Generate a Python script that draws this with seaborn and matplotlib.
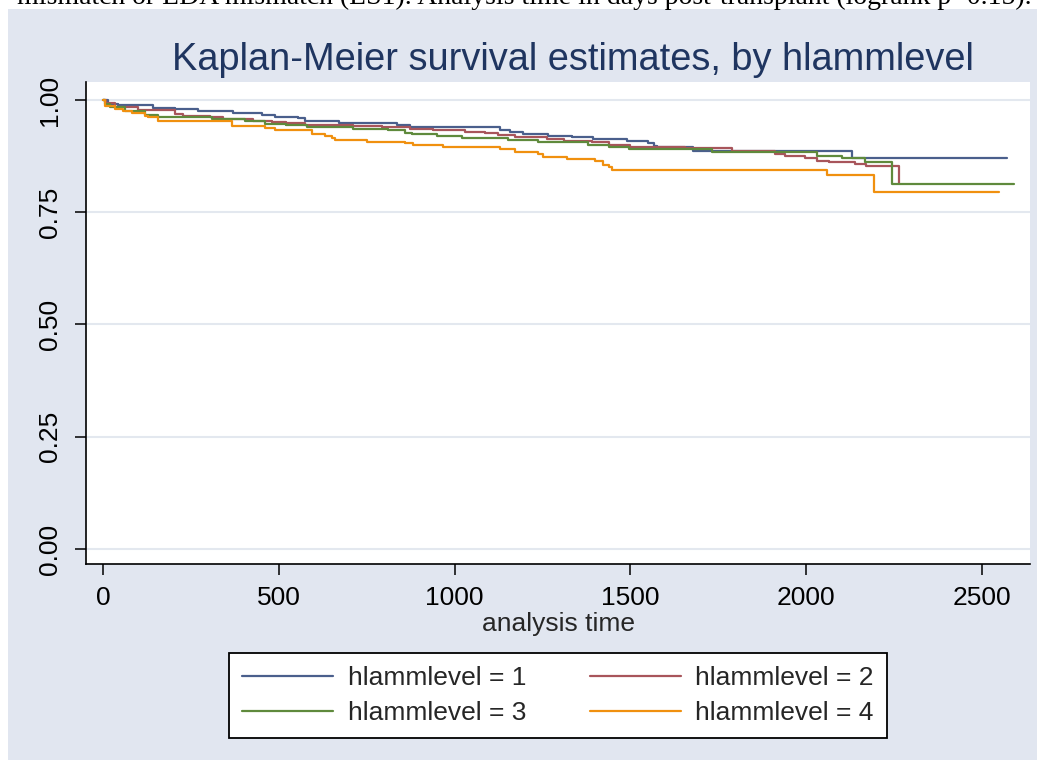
import numpy as np
import pandas as pd
import matplotlib
matplotlib.use('Agg')
import matplotlib.pyplot as plt
import seaborn as sns
from matplotlib.patches import Rectangle

sns.set_style('white')
plt.rcParams['font.family'] = ['Liberation Sans', 'DejaVu Sans']

# ---- data ----
t1 = [0, 15, 44, 143, 205, 271, 371, 451, 489, 556, 575, 670, 836, 873, 1129, 1158, 1196,
      1267, 1333, 1395, 1490, 1551, 1566, 1575, 1679, 2130, 2571]
s1 = [1.0, 0.991, 0.989, 0.983, 0.979, 0.9755, 0.971, 0.9666, 0.962, 0.959, 0.954, 0.9495,
      0.944, 0.939, 0.933, 0.928, 0.924, 0.9205, 0.917, 0.9125, 0.909, 0.9035, 0.898, 0.895,
      0.887, 0.870, 0.870]

t2 = [0, 8, 34, 100, 205, 228, 304, 342, 428, 480, 520, 575, 712, 793, 873, 940, 1030, 1087,
      1125, 1172, 1262, 1310, 1390, 1438, 1499, 1656, 1789, 1912, 1940, 1997, 2030, 2064,
      2140, 2170, 2263]
s2 = [1.0, 0.994, 0.984, 0.978, 0.969, 0.965, 0.961, 0.957, 0.953, 0.950, 0.948, 0.944,
      0.942, 0.939, 0.935, 0.932, 0.928, 0.926, 0.922, 0.918, 0.9125, 0.909, 0.906, 0.9005,
      0.8946, 0.892, 0.887, 0.879, 0.875, 0.870, 0.865, 0.861, 0.858, 0.854, 0.8145]

t3 = [0, 5, 20, 63, 119, 157, 309, 404, 461, 520, 579, 712, 812, 859, 878, 949, 1020, 1153,
      1238, 1381, 1438, 1495, 1732, 2030, 2101, 2168, 2244, 2592]
s3 = [1.0, 0.990, 0.984, 0.976, 0.9666, 0.961, 0.958, 0.953, 0.946, 0.944, 0.939, 0.935,
      0.932, 0.927, 0.9235, 0.920, 0.9146, 0.911, 0.906, 0.900, 0.8946, 0.891, 0.883, 0.876,
      0.870, 0.861, 0.812, 0.812]

t4 = [0, 6, 34, 58, 82, 119, 129, 157, 366, 461, 489, 594, 632, 651, 660, 750, 859, 883, 968,
      1129, 1172, 1238, 1253, 1319, 1400, 1423, 1438, 1447, 2059, 2193, 2550]
s4 = [1.0, 0.9866, 0.980, 0.976, 0.972, 0.965, 0.961, 0.954, 0.943, 0.937, 0.9325, 0.924,
      0.920, 0.9146, 0.911, 0.907, 0.9035, 0.900, 0.8946, 0.890, 0.8846, 0.879, 0.874, 0.8686,
      0.864, 0.855, 0.850, 0.844, 0.833, 0.794, 0.794]

groups = ['hlammlevel = 1', 'hlammlevel = 2', 'hlammlevel = 3', 'hlammlevel = 4']
colors = ['#4A5F8C', '#A8555B', '#5F8A3C', '#F0900F']
xticks = [0, 500, 1000, 1500, 2000, 2500]
yticks = [0.0, 0.25, 0.50, 0.75, 1.00]
ytick_labels = ['0.00', '0.25', '0.50', '0.75', '1.00']

df = pd.concat([
    pd.DataFrame({'time': t, 'surv': s, 'group': g})
    for t, s, g in zip([t1, t2, t3, t4], [s1, s2, s3, s4], groups)
], ignore_index=True)

W, H = 1044, 766
fig = plt.figure(figsize=(W / 100, H / 100), dpi=100)
fig.patch.set_facecolor('white')
bg = Rectangle((8 / W, 1 - 760 / H), (1037 - 8) / W, (760 - 9) / H,
               transform=fig.transFigure, facecolor='#E1E6F0', edgecolor='none', zorder=-5)
fig.add_artist(bg)

ax = fig.add_axes([86 / W, 1 - 564 / H, (1030 - 86) / W, (564 - 82) / H])
ax.set_facecolor('white')

sns.lineplot(data=df, x='time', y='surv', hue='group', hue_order=groups,
             palette=dict(zip(groups, colors)), estimator=None, sort=False,
             drawstyle='steps-post', linewidth=1.6, ax=ax, legend=False)

ax.set_xlim(-48.4, 2637)
ax.set_ylim(-0.0334, 1.040)
ax.set_xticks(xticks)
ax.set_xticklabels([str(x) for x in xticks])
ax.set_yticks(yticks)
ax.set_yticklabels(ytick_labels, rotation=90, va='center')
ax.yaxis.grid(True, color='#E3E8EF', linewidth=1.5)
ax.xaxis.grid(False)
ax.set_axisbelow(True)
for side in ['top', 'right']:
    ax.spines[side].set_visible(False)
for side in ['left', 'bottom']:
    ax.spines[side].set_color('black')
    ax.spines[side].set_linewidth(1.2)
ax.tick_params(axis='both', direction='out', length=8, width=1.1, color='black',
               labelsize=19, labelcolor='black', left=True, bottom=True)
ax.tick_params(axis='y', pad=9)
ax.tick_params(axis='x', pad=8)
ax.set_xlabel('analysis time', fontsize=19, labelpad=1)
ax.set_ylabel('')

fig.text(573 / W, 1 - 70 / H, 'Kaplan-Meier survival estimates, by hlammlevel',
         ha='center', va='baseline', fontsize=27.4, color='#1F3560')

fig.text(1032 / W, 1 - 4 / H,
         'mismatch or LDA mismatch (LS1). Analysis time in days post-transplant (logrank p=0.15).',
         ha='right', va='baseline', fontsize=20, color='black',
         family=['Liberation Serif', 'DejaVu Serif'])

lines = ax.get_lines()[:4]
order = [0, 2, 1, 3]
leg = fig.legend([lines[i] for i in order], [groups[i] for i in order],
                 loc='center', bbox_to_anchor=(558 / W, 1 - 695.5 / H), ncol=2,
                 fontsize=19, frameon=True, fancybox=False, handlelength=3.45,
                 handletextpad=0.55, columnspacing=2.4, labelspacing=0.42,
                 borderpad=0.5)
leg.get_frame().set_edgecolor('black')
leg.get_frame().set_linewidth(1.3)
leg.get_frame().set_facecolor('white')
leg.get_frame().set_alpha(1)

fig.savefig('out.png', dpi=100)
